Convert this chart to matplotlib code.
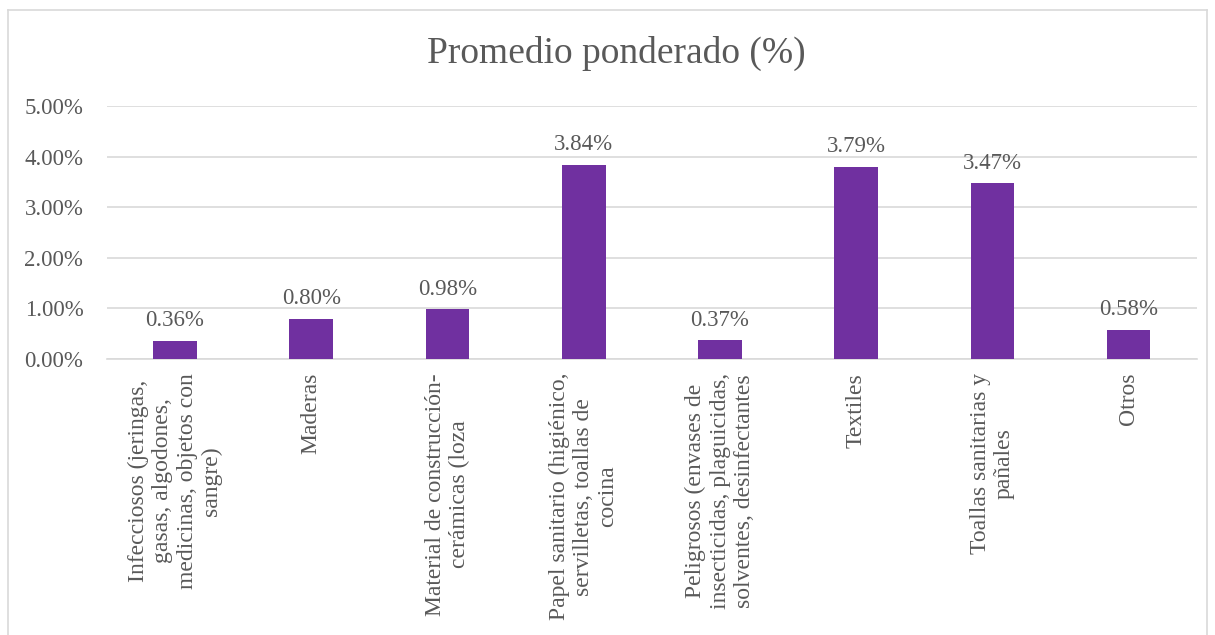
import matplotlib.pyplot as plt
from matplotlib.lines import Line2D
from matplotlib.ticker import FuncFormatter

plt.rcParams['font.family'] = ['Liberation Serif', 'DejaVu Serif']

# categories and weighted average (%)
categorias = [
    'Infecciosos (jeringas,\ngasas, algodones,\nmedicinas, objetos con\nsangre)',
    'Maderas',
    'Material de construcción-\ncerámicas (loza',
    'Papel sanitario (higiénico,\nservilletas, toallas de\ncocina',
    'Peligrosos (envases de\ninsecticidas, plaguicidas,\nsolventes, desinfectantes',
    'Textiles',
    'Toallas sanitarias y\npañales',
    'Otros',
]
valores = [0.36, 0.80, 0.98, 3.84, 0.37, 3.79, 3.47, 0.58]
yticks = [0, 1, 2, 3, 4, 5]

gris = '#595959'
morado = '#7030A0'

fig = plt.figure(figsize=(12.15, 6.35), dpi=100)
ax = fig.add_axes([0.088, 0.4346, 0.897, 0.3985])

x = range(len(valores))
bars = ax.bar(x, valores, width=0.32, color=morado, zorder=3)

for xi, v in zip(x, valores):
    ax.annotate('%.2f%%' % v, (xi, v), xytext=(0, 7), textcoords='offset points',
                ha='center', va='bottom', fontsize=16.5, color=gris)

ax.set_xlim(-0.5, len(valores) - 0.5)
ax.set_ylim(0, 5)
ax.set_yticks(yticks)
ax.yaxis.set_major_formatter(FuncFormatter(lambda v, p: '%.2f%%' % v))
ax.grid(axis='y', color='#D9D9D9', linewidth=1.2, zorder=0)
for s in ['top', 'right', 'left']:
    ax.spines[s].set_visible(False)
ax.spines['bottom'].set_color('#D9D9D9')
ax.spines['bottom'].set_linewidth(1.2)
ax.tick_params(axis='both', length=0, labelsize=16.5, labelcolor=gris)
ax.tick_params(axis='y', pad=17)

ax.set_xticks(list(x))
ax.set_xticklabels(categorias, rotation=90, ha='center', va='top',
                   multialignment='center', linespacing=1.2, fontsize=17)
ax.tick_params(axis='x', pad=10)

fig.text(0.507, 0.916, 'Promedio ponderado (%)', ha='center', va='center',
         fontsize=27, color=gris)

# chart border
bc = '#D9D9D9'
fig.add_artist(Line2D([8/1215, 8/1215], [0, 1 - 10/635], transform=fig.transFigure, color=bc, lw=1.2))
fig.add_artist(Line2D([8/1215, 1207/1215], [1 - 10/635, 1 - 10/635], transform=fig.transFigure, color=bc, lw=1.2))
fig.add_artist(Line2D([1207/1215, 1207/1215], [0, 1 - 10/635], transform=fig.transFigure, color=bc, lw=1.2))

fig.savefig('out.png', dpi=100)
